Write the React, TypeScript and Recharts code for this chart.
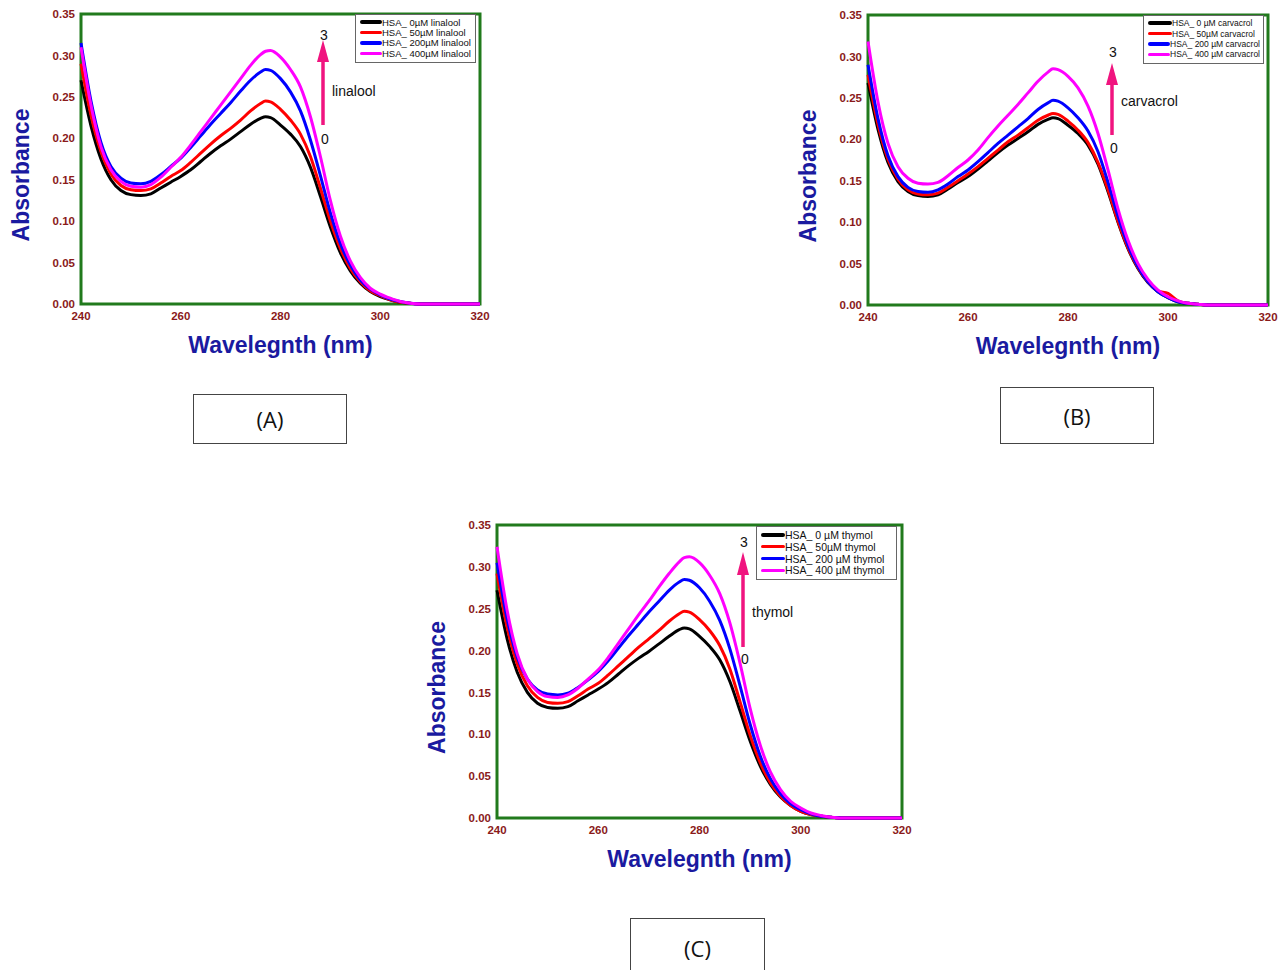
import { Legend, Line, LineChart, ReferenceArea, XAxis, YAxis } from "recharts";

// wavelength grid (nm)
const wavelengths = [
  240, 242, 244, 246, 248, 250, 252, 254, 256, 258, 260, 262, 264, 266, 268, 270, 272, 274, 276, 277,
  278, 280, 282, 284, 286, 288, 290, 292, 294, 296, 298, 300, 302, 304, 306, 308, 310, 315, 320,
];

// HSA + linalool
const linalool0 = [
  0.27, 0.215, 0.175, 0.15, 0.137, 0.132, 0.131, 0.133, 0.14, 0.147, 0.154, 0.162, 0.172, 0.182, 0.191, 0.199, 0.208, 0.217, 0.224, 0.226,
  0.225, 0.216, 0.205, 0.19, 0.165, 0.13, 0.093, 0.062, 0.04, 0.025, 0.015, 0.009, 0.005, 0.002, 0.001, 0, 0, 0, 0,
];
const linalool50 = [
  0.29, 0.228, 0.184, 0.157, 0.143, 0.138, 0.137, 0.139, 0.146, 0.154, 0.161, 0.171, 0.182, 0.193, 0.203, 0.212, 0.222, 0.233, 0.242, 0.245,
  0.244, 0.235, 0.222, 0.205, 0.178, 0.14, 0.1, 0.067, 0.043, 0.027, 0.016, 0.01, 0.005, 0.002, 0.001, 0, 0, 0, 0,
];
const linalool200 = [
  0.315, 0.245, 0.195, 0.166, 0.152, 0.146, 0.145, 0.148, 0.156, 0.166, 0.176, 0.189, 0.203, 0.217, 0.23, 0.243, 0.257, 0.27, 0.28, 0.283,
  0.282, 0.272, 0.256, 0.233, 0.198, 0.155, 0.11, 0.073, 0.047, 0.029, 0.018, 0.011, 0.006, 0.003, 0.001, 0, 0, 0, 0,
];
const linalool400 = [
  0.31, 0.24, 0.19, 0.162, 0.148, 0.142, 0.141, 0.144, 0.153, 0.165, 0.177, 0.192, 0.208, 0.224, 0.24, 0.256, 0.272, 0.288, 0.301, 0.305,
  0.306, 0.298, 0.283, 0.262, 0.226, 0.178, 0.125, 0.082, 0.052, 0.032, 0.019, 0.012, 0.007, 0.003, 0.001, 0, 0, 0, 0,
];

// HSA + carvacrol
const carvacrol0 = [
  0.268, 0.212, 0.172, 0.149, 0.137, 0.132, 0.131, 0.133, 0.14, 0.148, 0.155, 0.164, 0.174, 0.184, 0.193, 0.201, 0.209, 0.218, 0.224, 0.226,
  0.225, 0.217, 0.207, 0.193, 0.17, 0.137, 0.1, 0.068, 0.044, 0.027, 0.016, 0.009, 0.004, 0.002, 0.001, 0, 0, 0, 0,
];
const carvacrol50 = [
  0.278, 0.218, 0.176, 0.152, 0.139, 0.134, 0.133, 0.135, 0.142, 0.15, 0.158, 0.167, 0.177, 0.187, 0.197, 0.205, 0.214, 0.223, 0.229, 0.231,
  0.23, 0.222, 0.211, 0.196, 0.172, 0.139, 0.101, 0.069, 0.045, 0.028, 0.017, 0.014, 0.005, 0.002, 0.001, 0, 0, 0, 0,
];
const carvacrol200 = [
  0.29, 0.225, 0.18, 0.155, 0.142, 0.137, 0.136, 0.139, 0.146, 0.155, 0.163, 0.173, 0.184, 0.195, 0.205, 0.215, 0.225, 0.236, 0.244, 0.247,
  0.246, 0.238, 0.226, 0.21, 0.185, 0.148, 0.107, 0.072, 0.046, 0.028, 0.016, 0.009, 0.004, 0.002, 0.001, 0, 0, 0, 0,
];
const carvacrol400 = [
  0.318, 0.245, 0.195, 0.167, 0.153, 0.147, 0.146, 0.148, 0.156, 0.166, 0.175, 0.187, 0.202, 0.216, 0.229, 0.242, 0.256, 0.27, 0.281, 0.285,
  0.284, 0.276, 0.262, 0.24, 0.207, 0.163, 0.116, 0.078, 0.05, 0.031, 0.018, 0.01, 0.005, 0.002, 0.001, 0, 0, 0, 0,
];

// HSA + thymol
const thymol0 = [
  0.272, 0.214, 0.174, 0.15, 0.137, 0.132, 0.131, 0.133, 0.14, 0.147, 0.154, 0.162, 0.172, 0.182, 0.191, 0.199, 0.208, 0.217, 0.225, 0.227,
  0.226, 0.217, 0.205, 0.189, 0.163, 0.128, 0.092, 0.062, 0.04, 0.025, 0.015, 0.008, 0.004, 0.002, 0.001, 0, 0, 0, 0,
];
const thymol50 = [
  0.292, 0.228, 0.184, 0.158, 0.144, 0.138, 0.137, 0.139, 0.146, 0.154, 0.161, 0.171, 0.182, 0.193, 0.204, 0.214, 0.224, 0.235, 0.244, 0.247,
  0.246, 0.237, 0.224, 0.206, 0.178, 0.139, 0.099, 0.066, 0.042, 0.026, 0.015, 0.008, 0.004, 0.002, 0.001, 0, 0, 0, 0,
];
const thymol200 = [
  0.305, 0.238, 0.192, 0.166, 0.153, 0.148, 0.147, 0.149, 0.156, 0.165, 0.175, 0.188, 0.203, 0.218, 0.232, 0.246, 0.259, 0.272, 0.282, 0.285,
  0.284, 0.275, 0.259, 0.236, 0.202, 0.158, 0.112, 0.074, 0.047, 0.029, 0.017, 0.01, 0.005, 0.002, 0.001, 0, 0, 0, 0,
];
const thymol400 = [
  0.324, 0.248, 0.196, 0.166, 0.151, 0.145, 0.144, 0.147, 0.155, 0.166, 0.177, 0.192, 0.209, 0.226, 0.243, 0.259, 0.276, 0.292, 0.306, 0.311,
  0.312, 0.305, 0.29, 0.268, 0.233, 0.185, 0.131, 0.087, 0.055, 0.034, 0.02, 0.012, 0.006, 0.003, 0.001, 0, 0, 0, 0,
];

const xTicks = [240, 260, 280, 300, 320];
const yTicks = [0, 0.05, 0.1, 0.15, 0.2, 0.25, 0.3, 0.35];

const linaloolLabels = ["HSA_ 0µM linalool", "HSA_ 50µM linalool", "HSA_ 200µM linalool", "HSA_ 400µM linalool"];
const carvacrolLabels = ["HSA_ 0 µM carvacrol", "HSA_ 50µM carvacrol", "HSA_ 200 µM carvacrol", "HSA_ 400 µM carvacrol"];
const thymolLabels = ["HSA_ 0 µM thymol", "HSA_ 50µM thymol", "HSA_ 200 µM thymol", "HSA_ 400 µM thymol"];

const SERIES_COLORS = ["#000000", "#ff0000", "#0000ff", "#ff00ff"];
const FRAME = "#217a1c";
const TICK = "#8a1a1a";
const TITLE = "#1a1aa0";
const ARROW = "#f0147f";
const SANS = "'Liberation Sans', Arial, sans-serif";

const buildRows = (series: number[][]) =>
  wavelengths.map((nm, i) => ({ nm, s0: series[0][i], s1: series[1][i], s2: series[2][i], s3: series[3][i] }));

type PanelProps = {
  plot: { x: number; y: number; w: number; h: number };
  series: number[][];
  labels: string[];
  legendBox: { x: number; y: number; w: number; row: number; font: number; swatch: number };
};

const PAD_L = 80;
const PAD_T = 12;
const PAD_R = 12;
const PAD_B = 70;

function Panel({ plot, series, labels, legendBox }: PanelProps) {
  const data = buildRows(series);
  const width = plot.w + PAD_L + PAD_R;
  const height = plot.h + PAD_T + PAD_B;
  const left = plot.x - PAD_L;
  const top = plot.y - PAD_T;

  // boxed legend, kept in series order (recharts sorts its payload by name)
  const renderLegend = () => (
    <div
      style={{
        border: "1px solid #666",
        background: "#fff",
        padding: "2px 3px 3px 4px",
        fontFamily: SANS,
        fontSize: legendBox.font,
        color: "#111",
        boxSizing: "border-box",
      }}
    >
      {labels.map((name, i) => (
        <div key={name} style={{ display: "flex", alignItems: "center", height: legendBox.row, whiteSpace: "nowrap" }}>
          <span
            style={{ display: "inline-block", width: legendBox.swatch, height: 3.5, background: SERIES_COLORS[i], borderRadius: 2 }}
          />
          <span>{name}</span>
        </div>
      ))}
    </div>
  );

  return (
    <div style={{ position: "absolute", left, top, width, height }}>
      <LineChart width={width} height={height} data={data} margin={{ top: PAD_T, right: PAD_R, bottom: 0, left: 0 }}>
        <XAxis
          dataKey="nm"
          type="number"
          domain={[240, 320]}
          ticks={xTicks}
          height={PAD_B}
          axisLine={false}
          tickLine={false}
          tickSize={0}
          tickMargin={8}
          tick={{ fill: TICK, fontSize: 11.5, fontWeight: 700, fontFamily: SANS }}
          label={{
            content: (p: any) => {
              const vb = p.viewBox || { x: PAD_L, y: PAD_T + plot.h, width: plot.w };
              return (
                <text
                  x={vb.x + vb.width / 2}
                  y={vb.y + 49}
                  textAnchor="middle"
                  fill={TITLE}
                  fontSize={23}
                  fontWeight={700}
                  fontFamily={SANS}
                >
                  Wavelegnth (nm)
                </text>
              );
            },
          }}
        />
        <YAxis
          type="number"
          domain={[0, 0.35]}
          ticks={yTicks}
          width={PAD_L}
          axisLine={false}
          tickLine={false}
          tickSize={0}
          tickMargin={6}
          tickFormatter={(v: number) => v.toFixed(2)}
          tick={{ fill: TICK, fontSize: 11.5, fontWeight: 700, fontFamily: SANS }}
          label={{
            content: (p: any) => {
              const vb = p.viewBox || { x: 0, y: PAD_T, width: PAD_L, height: plot.h };
              const cx = vb.x + vb.width - 52;
              const cy = vb.y + vb.height / 2 + 16;
              return (
                <text
                  x={cx}
                  y={cy}
                  transform={`rotate(-90 ${cx} ${cy})`}
                  textAnchor="middle"
                  fill={TITLE}
                  fontSize={23}
                  fontWeight={700}
                  fontFamily={SANS}
                >
                  Absorbance
                </text>
              );
            },
          }}
        />
        <ReferenceArea x1={240} x2={320} y1={0} y2={0.35} fill="none" stroke={FRAME} strokeWidth={3} />
        {labels.map((name, i) => (
          <Line
            key={name}
            type="monotone"
            dataKey={`s${i}`}
            name={name}
            stroke={SERIES_COLORS[i]}
            strokeWidth={3}
            dot={false}
            isAnimationActive={false}
          />
        ))}
        <Legend
          layout="horizontal"
          align="center"
          verticalAlign="middle"
          content={renderLegend}
          wrapperStyle={{ left: legendBox.x - left, top: legendBox.y - top, width: legendBox.w, height: "auto" }}
        />
      </LineChart>
    </div>
  );
}

type ArrowNote = { x: number; tip: number; base: number; end: number; top: number; bottom: number; name: string; nameY: number };

function Arrow({ a }: { a: ArrowNote }) {
  return (
    <g fontFamily={SANS} fontSize={14} fill="#111">
      <line x1={a.x} y1={a.base - 1} x2={a.x} y2={a.end} stroke={ARROW} strokeWidth={3.5} />
      <polygon points={`${a.x},${a.tip} ${a.x - 6},${a.base} ${a.x + 6},${a.base}`} fill={ARROW} />
      <text x={a.x + 1} y={a.top + 5} textAnchor="middle">3</text>
      <text x={a.x + 2} y={a.bottom + 5} textAnchor="middle">0</text>
      <text x={a.x + 9} y={a.nameY + 5}>{a.name}</text>
    </g>
  );
}

const captionStyle = {
  position: "absolute" as const,
  border: "1px solid #444",
  boxSizing: "border-box" as const,
  display: "flex",
  alignItems: "center",
  justifyContent: "center",
  fontFamily: "'Open Sans', 'Noto Sans', sans-serif",
  fontSize: 22,
  color: "#111",
  background: "#fff",
};

export default function App() {
  const arrows: ArrowNote[] = [
    { x: 323, tip: 40, base: 62, end: 125, top: 35, bottom: 139, name: "linalool", nameY: 91 },
    { x: 1112, tip: 63, base: 85, end: 135, top: 52, bottom: 148, name: "carvacrol", nameY: 101 },
    { x: 743, tip: 552, base: 575, end: 647, top: 542, bottom: 659, name: "thymol", nameY: 612 },
  ];

  return (
    <div style={{ position: "absolute", left: 0, top: 0, width: 1286, height: 970, background: "#fff", overflow: "hidden" }}>
      <Panel
        plot={{ x: 81, y: 14, w: 399, h: 290 }}
        series={[linalool0, linalool50, linalool200, linalool400]}
        labels={linaloolLabels}
        legendBox={{ x: 355, y: 14, w: 121, row: 10.4, font: 9.5, swatch: 22 }}
      />
      <Panel
        plot={{ x: 868, y: 15, w: 400, h: 290 }}
        series={[carvacrol0, carvacrol50, carvacrol200, carvacrol400]}
        labels={carvacrolLabels}
        legendBox={{ x: 1143, y: 15, w: 121, row: 10.4, font: 8.5, swatch: 24 }}
      />
      <Panel
        plot={{ x: 497, y: 525, w: 405, h: 293 }}
        series={[thymol0, thymol50, thymol200, thymol400]}
        labels={thymolLabels}
        legendBox={{ x: 756, y: 526, w: 141, row: 11.8, font: 10.5, swatch: 24 }}
      />
      <svg width={1286} height={970} style={{ position: "absolute", left: 0, top: 0, pointerEvents: "none" }}>
        {arrows.map((a) => (
          <Arrow key={a.name} a={a} />
        ))}
      </svg>
      <div style={{ ...captionStyle, left: 193, top: 394, width: 154, height: 50 }}>(A)</div>
      <div style={{ ...captionStyle, left: 1000, top: 387, width: 154, height: 57 }}>(B)</div>
      <div style={{ ...captionStyle, left: 630, top: 918, width: 135, height: 60 }}>(C)</div>
    </div>
  );
}
